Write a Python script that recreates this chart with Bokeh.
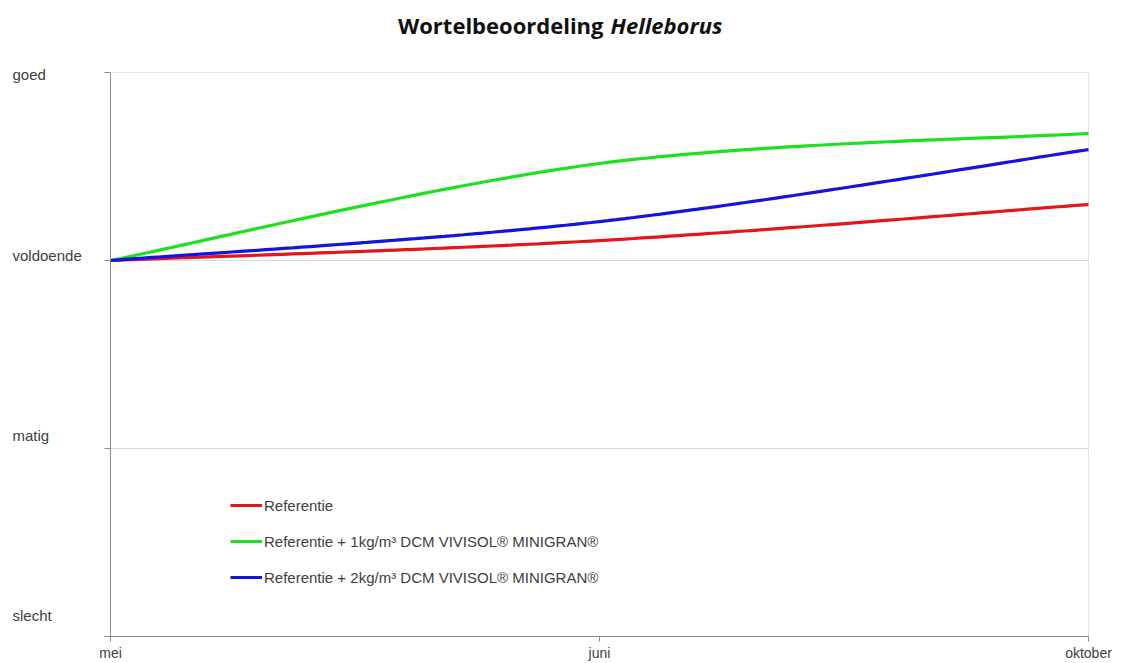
import numpy as np
from bokeh.plotting import figure
from bokeh.models import Range1d, FixedTicker, Label, Legend, LegendItem, LinearAxis
from bokeh.embed import file_html
from bokeh.resources import INLINE

# ---- data ----
months = ["mei", "juni", "oktober"]
levels = ["slecht", "matig", "voldoende", "goed"]   # 0..3
referentie = [2.0, 2.106, 2.298]
ref_1kg = [2.0, 2.516, 2.676]
ref_2kg = [2.0, 2.207, 2.590]
series_names = [
    "Referentie",
    "Referentie + 1kg/m³ DCM VIVISOL® MINIGRAN®",
    "Referentie + 2kg/m³ DCM VIVISOL® MINIGRAN®",
]
series_colors = ["#e3161c", "#1fe01f", "#1414dc"]


def smooth(xs, ys, n=60):
    """Excel-like smoothed line (cubic Bezier through the points)."""
    P = np.column_stack([xs, ys]).astype(float)
    m = len(P)
    out = []
    for i in range(m - 1):
        p0 = P[max(i - 1, 0)]
        p1 = P[i]
        p2 = P[i + 1]
        p3 = P[min(i + 2, m - 1)]
        c1 = p1 + (p2 - p0) / 6.0
        c2 = p2 - (p3 - p1) / 6.0
        t = np.linspace(0, 1, n)[:, None]
        seg = ((1 - t) ** 3) * p1 + 3 * ((1 - t) ** 2) * t * c1 + 3 * (1 - t) * t ** 2 * c2 + t ** 3 * p2
        out.append(seg if i == 0 else seg[1:])
    pts = np.vstack(out)
    return pts[:, 0], pts[:, 1]


# ---- layout (pixels) ----
W, H = 1118, 663
PL, PR, PT, PB = 110, 1088, 72, 636          # plot-area edges on the canvas
nx, ny = len(months) - 1, len(levels) - 1
sx_unit = (PR - PL) / nx
sy_unit = (PB - PT) / ny
x0 = -PL / sx_unit
x1 = nx + (W - PR) / sx_unit
y1 = ny + PT / sy_unit
y0 = -(H - PB) / sy_unit


def px_x(px):
    return x0 + px / sx_unit


def px_y(py):
    return y1 - py / sy_unit


xs = list(range(len(months)))

p = figure(width=W, height=H, output_backend="svg", toolbar_location=None,
           x_range=Range1d(x0, x1), y_range=Range1d(y0, y1),
           x_axis_location=None, y_axis_location=None, title_location=None,
           min_border=0, min_border_left=0, min_border_right=0,
           min_border_top=0, min_border_bottom=0)
p.background_fill_color = "white"
p.border_fill_color = "white"
p.outline_line_color = None
p.xgrid.visible = False
p.ygrid.visible = False

# plot-area frame (top / right) and gridlines
p.segment(x0=[0, nx], y0=[ny, 0], x1=[nx, nx], y1=[ny, ny],
          line_color="#e3e3e3", line_width=1)
grid_levels = [1, 2]
p.segment(x0=[0] * len(grid_levels), y0=grid_levels, x1=[nx] * len(grid_levels), y1=grid_levels,
          line_color="#d9d9d9", line_width=1)

# axes, fixed at the plot-area edges
xaxis = LinearAxis(fixed_location=0, bounds=(0, nx), ticker=FixedTicker(ticks=xs))
xaxis.major_label_overrides = {i: m for i, m in enumerate(months)}
xaxis.major_label_text_font = "Liberation Sans"
xaxis.major_label_text_font_size = "14px"
xaxis.major_label_text_color = "#404040"
xaxis.major_label_standoff = 3
xaxis.major_tick_out = 5
xaxis.major_tick_in = 0
xaxis.minor_tick_line_color = None
xaxis.axis_line_color = "#8a8a8a"
xaxis.major_tick_line_color = "#8a8a8a"
p.add_layout(xaxis, "below")

yaxis = LinearAxis(fixed_location=0, bounds=(0, ny),
                   ticker=FixedTicker(ticks=list(range(len(levels)))))
yaxis.major_label_text_color = None
yaxis.major_tick_out = 6
yaxis.major_tick_in = 0
yaxis.minor_tick_line_color = None
yaxis.axis_line_color = "#8a8a8a"
yaxis.major_tick_line_color = "#8a8a8a"
p.add_layout(yaxis, "left")

# y level labels, left aligned in the left margin
label_offsets = [21, 13, 5, -2]
for i, (lv, off) in enumerate(zip(levels, label_offsets)):
    p.add_layout(Label(x=px_x(12), y=i, y_offset=off,
                       text=lv, text_align="left", text_baseline="middle",
                       text_font="Liberation Sans", text_font_size="15px",
                       text_color="#404040"))

# lines
items = []
for name, col, ys in zip(series_names, series_colors, [referentie, ref_1kg, ref_2kg]):
    sx, sy = smooth(xs, ys)
    r = p.line(sx, sy, line_color=col, line_width=3.2)
    items.append(LegendItem(label=name, renderers=[r]))

legend = Legend(items=items, location=(230, H - 587), orientation="vertical",
                glyph_width=32, glyph_height=20, label_height=20, label_standoff=2,
                spacing=16, padding=0, margin=0,
                border_line_alpha=0, background_fill_alpha=0,
                label_text_font="Liberation Sans", label_text_font_size="15px",
                label_text_color="#404040")
p.add_layout(legend, "center")

# title (bold + bold italic)
p.add_layout(Label(x=px_x(603), y=px_y(24),
                   text="Wortelbeoordeling", text_align="right", text_baseline="middle",
                   text_font="Open Sans", text_font_style="bold", text_font_size="22px",
                   text_color="#111111"))
p.add_layout(Label(x=px_x(610), y=px_y(24),
                   text="Helleborus", text_align="left", text_baseline="middle",
                   text_font="Open Sans", text_font_style="bold italic", text_font_size="22px",
                   text_color="#111111"))

open("out.html", "w").write(file_html(p, INLINE))
